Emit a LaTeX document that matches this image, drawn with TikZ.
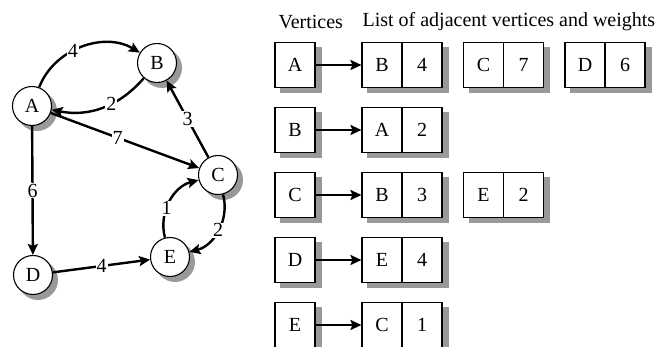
\documentclass[tikz,border=0pt]{standalone}
\usepackage{fontspec}
\setmainfont{Liberation Serif}
\usetikzlibrary{arrows.meta, backgrounds}

\begin{document}
\begin{tikzpicture}[x=1pt, y=1pt,
        font=\fontsize{20}{24}\selectfont,
        shdw/.style={fill=black!40, draw=none},
        vtx/.style={circle, draw, line width=1.1pt, fill=white, minimum size=39pt, inner sep=0pt},
        cell/.style={rectangle, draw, line width=1.1pt, fill=white, minimum width=40pt, minimum height=45pt, inner sep=0pt},
        wt/.style={fill=white, inner sep=1pt},
        link/.style={-{Stealth[length=11pt, width=10pt, inset=2pt]}, line width=2.4pt}]
    \useasboundingbox (0,0) rectangle (663,347);

    % the graph
    \node[vtx] (A) at (32,241) {A};
    \node[vtx] (B) at (157,284) {B};
    \node[vtx] (C) at (218,172) {C};
    \node[vtx] (D) at (33,72) {D};
    \node[vtx] (E) at (170,90) {E};

    \path[link] (A) edge[bend left=50] node[wt, pos=0.42] {4} (B);
    \path[link] (B) edge[bend left=30] node[wt, pos=0.4] {2} (A);
    \path[link] (A) edge node[wt, pos=0.45] {7} (C);
    \path[link] (C) edge node[wt, midway] {3} (B);
    \path[link] (A) edge node[wt, midway] {6} (D);
    \path[link] (D) edge node[wt, midway] {4} (E);
    \path[link] (E) edge[bend left=45] node[wt, pos=0.4] {1} (C);
    \path[link] (C) edge[bend left=45] node[wt, pos=0.5] {2} (E);

    % the lists
    \node[anchor=west] (hv) at (275,325) {Vertices};
    \node[anchor=west] (hl) at (359,325) {List of adjacent vertices and weights};

    \foreach \v/\y in {A/282, B/217, C/152, D/87, E/22}
    {
        \node[cell] (l\v) at (295,\y) {\v};
    }
    \foreach \v/\k/\n/\w/\y in {A/1/B/4/282, A/2/C/7/282, A/3/D/6/282, B/1/A/2/217,
                               C/1/B/3/152, C/2/E/2/152, D/1/E/4/87, E/1/C/1/22}
    {
        \node[cell] (n\v\k) at ({382+(\k-1)*101.5},\y) {\n};
        \node[cell] (w\v\k) at ({422+(\k-1)*101.5},\y) {\w};
    }
    \foreach \v in {A,...,E}
        \draw[link] (l\v) -- (n\v1);

    % shadows
    \begin{scope}[on background layer]
        \foreach \v in {A,...,E}
            \fill[shdw] ([shift={(5pt,-5pt)}]\v.center) circle (20pt);
        \foreach \b in {lA,lB,lC,lD,lE,nA1,wA1,nA2,wA2,nA3,wA3,nB1,wB1,nC1,wC1,nC2,wC2,nD1,wD1,nE1,wE1}
            \fill[shdw] ([shift={(6pt,-5pt)}]\b.south west) rectangle ([shift={(6pt,-5pt)}]\b.north east);
    \end{scope}
\end{tikzpicture}
\end{document}
